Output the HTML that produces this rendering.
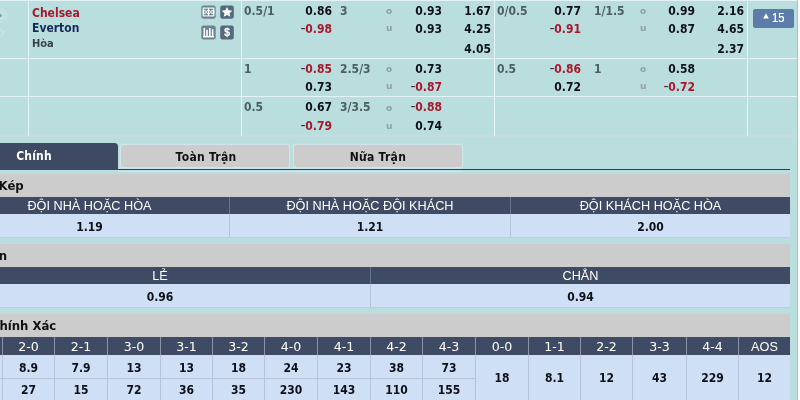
<!DOCTYPE html>
<html lang="vi">
<head>
<meta charset="utf-8">
<title>Chelsea - Everton</title>
<style>
html,body{margin:0;padding:0;}
body{width:800px;height:400px;overflow:hidden;background:#badede;position:relative;font-family:"DejaVu Sans Condensed","DejaVu Sans","Liberation Sans",sans-serif;font-size:12px;font-weight:bold;color:#0c1018;}
.a{position:absolute;white-space:nowrap;line-height:1;}
.hl{position:absolute;height:1px;background:#e4f3f6;}
.vl{position:absolute;width:1px;background:#e4f3f6;}
.r{text-align:right;}
.c{text-align:center;}
.red{color:#aa162a;}
.m{color:#43262e;font-weight:normal;font-family:"DejaVu Sans",sans-serif;font-size:14px;line-height:0;letter-spacing:-0.3px;}
.hdp{color:#4b5f62;}
.ou{color:#8fa0a2;font-size:9px;font-family:"DejaVu Sans",sans-serif;}
.team{font-family:"DejaVu Sans Condensed","DejaVu Sans",sans-serif;font-size:12px;transform:scaleY(1.08);transform-origin:0 50%;}
.tab{position:absolute;top:144.5px;height:22.8px;background:#cdcccd;border-radius:2px;box-shadow:0 0 0 1.2px #cfe5e8;font-family:"DejaVu Sans Condensed","DejaVu Sans",sans-serif;font-size:12px;line-height:24.6px;text-align:center;color:#111;letter-spacing:0.3px;text-indent:2px;}
.tab.on{top:143px;height:26.8px;background:#3e4a63;color:#fff;border-radius:0 3.5px 0 0;box-shadow:none;line-height:26px;text-indent:0;letter-spacing:0.15px;}
.bar{position:absolute;left:-50px;width:840px;height:23px;background:#cccccc;}
.bar span{position:absolute;left:2px;top:0;line-height:23px;font-family:"DejaVu Sans Condensed","DejaVu Sans",sans-serif;font-size:13px;color:#111;}
.hd{position:absolute;left:-50px;width:840px;height:17px;background:#3f4b64;}
.hd div{position:absolute;top:0;height:100%;line-height:18.6px;text-align:center;color:#fff;font-family:"Liberation Sans",sans-serif;font-weight:normal;font-size:12.7px;box-sizing:border-box;border-left:1px solid #8a94a6;}
.vr{position:absolute;left:-50px;width:840px;height:23px;background:#cfdff5;box-shadow:0 0.7px 0 #b4cfd8;}
.vr div{position:absolute;top:0;height:100%;line-height:27px;text-align:center;font-size:12px;box-sizing:border-box;border-left:1px solid #b7c4d8;}
.hd div.dj{font-family:"DejaVu Sans",sans-serif;font-size:12.6px;line-height:19.5px;}
.hd div.ar{font-family:"Liberation Sans",sans-serif;font-size:12.7px;line-height:20px;}
.hd.s1 div{border-left-color:#66748f;}
.vr div.rs{line-height:47.5px;}
.vr div.t2 span{display:block;height:23px;line-height:26px;box-sizing:border-box;}
.vr div.t2 span+span{border-top:1px solid #b7c4d8;line-height:22.5px;}
</style>
</head>
<body>
<!-- odds table grid -->
<div class="hl" style="left:0;top:0;width:798px;"></div>
<div class="hl" style="left:0;top:58px;width:798px;"></div>
<div class="hl" style="left:0;top:96px;width:798px;"></div>
<div class="hl" style="left:0;top:135px;width:798px;height:2px;background:#c6dcdf;"></div>
<div class="vl" style="left:28px;top:0;height:136px;"></div>
<div class="vl" style="left:241px;top:0;height:136px;"></div>
<div class="vl" style="left:494px;top:0;height:136px;"></div>
<div class="vl" style="left:747px;top:0;height:136px;"></div>
<div class="vl" style="left:797px;top:0;height:136px;"></div>

<div class="a team" style="left:32px;top:6.5px;color:#aa162a;">Chelsea</div>
<div class="a team" style="left:32px;top:21.7px;color:#14295a;">Everton</div>
<div class="a team" style="left:32px;top:37.5px;color:#39424a;font-size:11px;transform:none;">Hòa</div>

<svg class="a" style="left:0;top:5px;" width="10" height="35" viewBox="0 0 10 35"><circle cx="0" cy="10.5" r="6.5" fill="none" stroke="#cfe9e9" stroke-width="1"/><circle cx="0" cy="10.5" r="3.8" fill="none" stroke="#d4ecec" stroke-width="1"/><circle cx="0" cy="10.5" r="1.6" fill="#7d9c9d"/><path d="M0 24 L3.5 27 L1.5 32" fill="none" stroke="#cbe6e6" stroke-width="1.6"/></svg>
<!-- icons -->
<svg class="a" style="left:201px;top:5px;" width="15" height="14" viewBox="0 0 15 14"><rect x="0.3" y="0.5" width="14.4" height="13.2" rx="2.2" fill="#6b8493"/><rect x="2.2" y="3.1" width="10.6" height="7.8" fill="none" stroke="#ffffff" stroke-width="1.1"/><line x1="7.5" y1="3" x2="7.5" y2="11" stroke="#ffffff" stroke-width="1"/><circle cx="7.5" cy="7" r="1.9" fill="none" stroke="#ffffff" stroke-width="1"/><rect x="2.2" y="5.3" width="1.9" height="3.4" fill="none" stroke="#ffffff" stroke-width="0.9"/><rect x="10.9" y="5.3" width="1.9" height="3.4" fill="none" stroke="#ffffff" stroke-width="0.9"/></svg>
<svg class="a" style="left:220px;top:5px;" width="14" height="14" viewBox="0 0 14 14"><rect x="0.2" y="0.5" width="13.6" height="13.2" rx="2.2" fill="#546a7c"/><polygon points="7,1.9 8.6,5.3 12.3,5.7 9.5,8.15 10.3,11.8 7,9.9 3.7,11.8 4.5,8.15 1.7,5.7 5.4,5.3" fill="#ffffff"/></svg>
<svg class="a" style="left:201px;top:25px;" width="15" height="15" viewBox="0 0 15 15"><rect x="0.3" y="0.5" width="14.4" height="14" rx="2.2" fill="#6b8493"/><rect x="2.5" y="3" width="1.6" height="8.5" fill="#ffffff"/><rect x="5.2" y="4.8" width="1.6" height="6.7" fill="#ffffff"/><rect x="8" y="3" width="1.6" height="8.5" fill="#ffffff"/><rect x="10.8" y="4.2" width="1.6" height="7.3" fill="#ffffff"/><rect x="2" y="11" width="11" height="1.4" fill="#ffffff"/></svg>
<svg class="a" style="left:220px;top:25px;" width="14" height="15" viewBox="0 0 14 15"><rect x="0.2" y="0.5" width="13.6" height="14" rx="2.2" fill="#546a7c"/><text x="7" y="11" text-anchor="middle" font-family="Liberation Sans, sans-serif" font-weight="bold" font-size="11" fill="#ffffff">$</text><rect x="6.6" y="2.4" width="0.9" height="9.8" fill="#ffffff" opacity="0.8"/></svg>
<!-- row 1 -->
<div class="a hdp" style="left:244px;top:5px;">0.5/1</div>
<div class="a r" style="right:468px;top:5px;">0.86</div>
<div class="a r red" style="right:468px;top:23px;"><span class="m">-</span>0.98</div>
<div class="a hdp" style="left:340px;top:5px;">3</div>
<div class="a ou" style="left:386px;top:7px;">o</div>
<div class="a ou" style="left:386px;top:24px;">u</div>
<div class="a r" style="right:358px;top:5px;">0.93</div>
<div class="a r" style="right:358px;top:23px;">0.93</div>
<div class="a r" style="right:309px;top:5px;">1.67</div>
<div class="a r" style="right:309px;top:23px;">4.25</div>
<div class="a r" style="right:309px;top:43px;">4.05</div>

<div class="a hdp" style="left:497px;top:5px;">0/0.5</div>
<div class="a r" style="right:219px;top:5px;">0.77</div>
<div class="a r red" style="right:219px;top:23px;"><span class="m">-</span>0.91</div>
<div class="a hdp" style="left:594px;top:5px;">1/1.5</div>
<div class="a ou" style="left:640px;top:7px;">o</div>
<div class="a ou" style="left:640px;top:24px;">u</div>
<div class="a r" style="right:105px;top:5px;">0.99</div>
<div class="a r" style="right:105px;top:23px;">0.87</div>
<div class="a r" style="right:56px;top:5px;">2.16</div>
<div class="a r" style="right:56px;top:23px;">4.65</div>
<div class="a r" style="right:56px;top:43px;">2.37</div>

<div class="a" style="left:753px;top:9px;width:41px;height:19px;background:#5c7caa;border-radius:2px;color:#fff;font-family:'Liberation Sans',sans-serif;font-weight:normal;font-size:12px;line-height:19px;"><svg style="position:absolute;left:10px;top:3.8px;" width="6" height="6" viewBox="0 0 6 6"><polygon points="3,0.2 5.9,5.6 0.1,5.6" fill="#ffffff"/></svg><span style="position:absolute;left:18.8px;top:-0.3px;transform:scaleX(0.92);transform-origin:0 0;text-shadow:0 0 0.6px #fff;">15</span></div>

<!-- row 2 -->
<div class="a hdp" style="left:244px;top:62.5px;">1</div>
<div class="a r red" style="right:468px;top:62.5px;"><span class="m">-</span>0.85</div>
<div class="a r" style="right:468px;top:81px;">0.73</div>
<div class="a hdp" style="left:340px;top:62.5px;">2.5/3</div>
<div class="a ou" style="left:386px;top:64.5px;">o</div>
<div class="a ou" style="left:386px;top:82px;">u</div>
<div class="a r" style="right:358px;top:62.5px;">0.73</div>
<div class="a r red" style="right:358px;top:81px;"><span class="m">-</span>0.87</div>

<div class="a hdp" style="left:497px;top:62.5px;">0.5</div>
<div class="a r red" style="right:219px;top:62.5px;"><span class="m">-</span>0.86</div>
<div class="a r" style="right:219px;top:81px;">0.72</div>
<div class="a hdp" style="left:594px;top:62.5px;">1</div>
<div class="a ou" style="left:640px;top:64.5px;">o</div>
<div class="a ou" style="left:640px;top:82px;">u</div>
<div class="a r" style="right:105px;top:62.5px;">0.58</div>
<div class="a r red" style="right:105px;top:81px;"><span class="m">-</span>0.72</div>

<!-- row 3 -->
<div class="a hdp" style="left:244px;top:101px;">0.5</div>
<div class="a r" style="right:468px;top:101px;">0.67</div>
<div class="a r red" style="right:468px;top:120.3px;"><span class="m">-</span>0.79</div>
<div class="a hdp" style="left:340px;top:101px;">3/3.5</div>
<div class="a ou" style="left:386px;top:104px;">o</div>
<div class="a ou" style="left:386px;top:121.5px;">u</div>
<div class="a r red" style="right:358px;top:101px;"><span class="m">-</span>0.88</div>
<div class="a r" style="right:358px;top:120.3px;">0.74</div>

<!-- tabs -->
<div style="position:absolute;left:118px;top:167px;width:344px;height:5px;background:#c6e3e8;"></div>
<div style="position:absolute;left:0;top:168.6px;width:790px;height:1.4px;background:#2c4054;"></div>
<div class="tab on" style="left:-50px;width:168px;">Chính</div>
<div class="tab" style="left:120.7px;width:168.8px;">Toàn Trận</div>
<div class="tab" style="left:293.5px;width:168.8px;text-indent:0;">Nữa Trận</div>

<!-- section 1 -->
<div class="bar" style="top:174px;"><span>Cơ Hội Kép</span></div>
<div class="hd s1" style="top:197px;">
  <div style="left:0px;width:279px;border-left:0;">ĐỘI NHÀ HOẶC HÒA</div>
  <div style="left:279px;width:281px;">ĐỘI NHÀ HOẶC ĐỘI KHÁCH</div>
  <div style="left:560px;width:280px;">ĐỘI KHÁCH HOẶC HÒA</div>
</div>
<div class="vr" style="top:214px;">
  <div style="left:0px;width:279px;border-left:0;">1.19</div>
  <div style="left:279px;width:281px;">1.21</div>
  <div style="left:560px;width:280px;">2.00</div>
</div>

<!-- section 2 -->
<div class="bar" style="top:244px;"><span style="left:4.4px;">Lẻ/Chẵn</span></div>
<div class="hd s1" style="top:267px;">
  <div style="left:0px;width:420px;border-left:0;">LẺ</div>
  <div style="left:420px;width:420px;">CHẲN</div>
</div>
<div class="vr" style="top:284px;">
  <div style="left:0px;width:420px;border-left:0;">0.96</div>
  <div style="left:420px;width:420px;">0.94</div>
</div>

<!-- section 3 -->
<div class="bar" style="top:314px;"><span style="left:0.6px;">Tỷ Số Chính Xác</span></div>
<div class="hd" style="top:337px;height:17.5px;">
  <div class="dj" style="left:0px;width:52px;border-left:0;">1-0</div>
  <div class="dj" style="left:52px;width:52px;">2-0</div>
  <div class="dj" style="left:104px;width:53px;">2-1</div>
  <div class="dj" style="left:157px;width:53px;">3-0</div>
  <div class="dj" style="left:210px;width:52px;">3-1</div>
  <div class="dj" style="left:262px;width:52px;">3-2</div>
  <div class="dj" style="left:314px;width:53px;">4-0</div>
  <div class="dj" style="left:367px;width:53px;">4-1</div>
  <div class="dj" style="left:420px;width:52px;">4-2</div>
  <div class="dj" style="left:472px;width:53px;">4-3</div>
  <div class="dj" style="left:525px;width:53px;">0-0</div>
  <div class="dj" style="left:578px;width:52px;">1-1</div>
  <div class="dj" style="left:630px;width:52px;">2-2</div>
  <div class="dj" style="left:682px;width:54px;">3-3</div>
  <div class="dj" style="left:736px;width:52px;">4-4</div>
  <div class="ar" style="left:788px;width:52px;">AOS</div>
</div>
<div class="vr" style="top:354.5px;height:45.5px;">
  <div class="t2" style="left:0px;width:52px;border-left:0;"><span>7.4</span><span>14</span></div>
  <div class="t2" style="left:52px;width:52px;"><span>8.9</span><span>27</span></div>
  <div class="t2" style="left:104px;width:53px;"><span>7.9</span><span>15</span></div>
  <div class="t2" style="left:157px;width:53px;"><span>13</span><span>72</span></div>
  <div class="t2" style="left:210px;width:52px;"><span>13</span><span>36</span></div>
  <div class="t2" style="left:262px;width:52px;"><span>18</span><span>35</span></div>
  <div class="t2" style="left:314px;width:53px;"><span>24</span><span>230</span></div>
  <div class="t2" style="left:367px;width:53px;"><span>23</span><span>143</span></div>
  <div class="t2" style="left:420px;width:52px;"><span>38</span><span>110</span></div>
  <div class="t2" style="left:472px;width:53px;"><span>73</span><span>155</span></div>
  <div class="rs" style="left:525px;width:53px;">18</div>
  <div class="rs" style="left:578px;width:52px;">8.1</div>
  <div class="rs" style="left:630px;width:52px;">12</div>
  <div class="rs" style="left:682px;width:54px;">43</div>
  <div class="rs" style="left:736px;width:52px;">229</div>
  <div class="rs" style="left:788px;width:52px;">12</div>
</div>
<div style="position:absolute;left:797px;top:0;width:1px;height:400px;background:#a9c4c6;"></div>
<div style="position:absolute;left:798px;top:0;width:2px;height:400px;background:#fbfdfd;"></div>
</body>
</html>
